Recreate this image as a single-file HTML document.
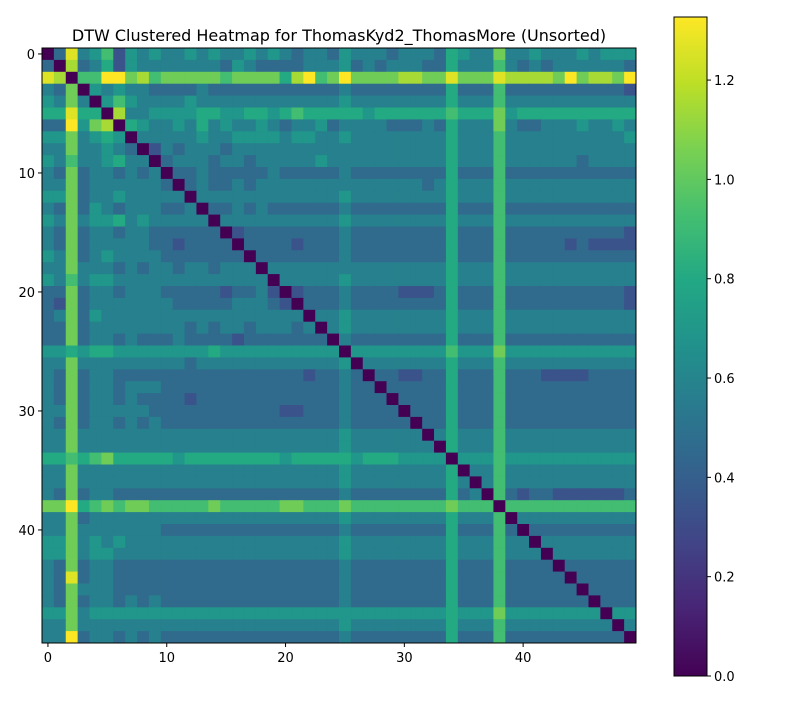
<!DOCTYPE html>
<html><head><meta charset="utf-8">
<style>
body{margin:0;background:#fff;font-family:"DejaVu Sans",sans-serif;}
svg text{font-family:"DejaVu Sans",sans-serif;fill:#000;}
</style></head>
<body>
<svg id="chart" width="800" height="700" xmlns="http://www.w3.org/2000/svg">
<text x="339" y="41" font-size="16" text-anchor="middle">DTW Clustered Heatmap for ThomasKyd2_ThomasMore (Unsorted)</text>
<defs><linearGradient id="vir" x1="0" y1="1" x2="0" y2="0">
<stop offset="0" stop-color="#440154"/><stop offset="0.1" stop-color="#482475"/><stop offset="0.2" stop-color="#414487"/><stop offset="0.3" stop-color="#355f8d"/><stop offset="0.4" stop-color="#2a788e"/><stop offset="0.5" stop-color="#21918c"/><stop offset="0.6" stop-color="#22a884"/><stop offset="0.7" stop-color="#44bf70"/><stop offset="0.8" stop-color="#7ad151"/><stop offset="0.9" stop-color="#bddf26"/><stop offset="1" stop-color="#fde725"/>
</linearGradient></defs>
<g id="cells"></g>
<g id="axes"></g>
<rect x="674" y="17" width="33" height="659" fill="url(#vir)" stroke="#000" stroke-width="1"/>
<g id="cbar"></g>
</svg>
<script>
const rowCodes = [
"04b5683656 5565655656 5455465554 5554765595 5655565666",
"40a4573655 5555546544 4455564545 5544755585 4545555554",
"ba088cd9a8 9999989999 7ac89c9999 aa99b999ba aaa9c9aa9c",
"5490656554 4445444444 4444454444 4444744484 4444444443",
"6595068655 5565555555 5555565555 5555755585 5555555555",
"77b770a556 6667766776 7877777677 7777877796 7777777777",
"44d69a0765 5657565565 4556455554 4454755595 4455565565",
"6695676055 5556556666 5665565555 5555755585 5555555556",
"5595565403 5455545555 5555555555 5555755585 5555555555",
"6585567550 4555455455 5556555555 5555755585 5555545555",
"5494554545 0445444445 4444454444 4444744484 4444444444",
"5594555555 4045445455 5555555555 5545755585 5555555555",
"6694556555 5505555555 5555565555 5555755585 5555555555",
"5494654555 4450445454 4444454444 4444744484 4444444444",
"6595667565 5555055555 5555565555 5555755585 5555555555",
"5494554554 4444403444 4444454444 4444744484 4444444443",
"5494555554 4344440444 4344454444 4444744484 4444343333",
"6594565555 4444444044 4444454444 4444744484 4444444444",
"5595554545 5455455505 5555555555 5555755585 5555555555",
"6585665555 5555555550 5555565555 5555755585 5555555555",
"4494554555 4444434453 0344454444 3334744484 4444444443",
"4394555555 5444445554 3044454444 4444744484 4444444443",
"4594655555 5555555555 5505565555 5555755585 5555555555",
"4494555555 5545455455 5450565555 5555755585 5555555555",
"4494554544 4544443444 4444054444 4444744484 4444444444",
"6676776666 6666766666 6666606666 6666866696 6666666666",
"5595555555 5545555555 5555560555 5555755585 5555555555",
"5494554444 4444444444 4434454044 3344744484 4433334444",
"5494554555 4444444444 4444454404 4444744484 4444444444",
"5494554544 4434444444 4444454440 4444744484 4444444444",
"5594555554 4444444444 3344454444 0444744484 4444444444",
"5494554545 4444444444 4444454444 4044744484 4444444444",
"5595555555 5555555555 5555565555 5505755585 5555555555",
"5595555555 5555555555 5555565555 5550755585 5555555555",
"7787897777 7677777777 6777776777 6666066686 6666666666",
"5595555555 5555555555 5555565555 5555705585 5555555555",
"5595555555 5555555555 5555565555 5555750585 5555555555",
"5494554444 4444444444 4444454444 4444745084 3443333334",
"99c7898998 8888988888 9988898888 8888988808 8888888888",
"5594555555 5555555555 5555565555 5555755580 5555555555",
"5595555555 4444444444 4444454444 4444744484 0444444444",
"6695656555 5555555555 5555565555 5555755585 5055555555",
"6695665555 5555555555 5555565555 5555755585 5505555555",
"5494554444 4444444444 4444454444 4444744484 4440444444",
"54b4554444 4444444444 4444454444 4444744484 4444044444",
"5495554444 4444444444 4444454444 4444744484 4444404444",
"5494554545 4444444444 4444454444 4444744484 4444440444",
"6695666666 6666666666 6666666666 6666766696 6666666066",
"5595555555 5555555555 5555565555 5555755585 5555555505",
"55c4554545 4444444444 4444454444 4444744484 4444444440"
];
const codeUnit = 0.115;
const xTicks = [0,10,20,30,40];
const yTicks = [0,10,20,30,40];
const cbarTicks = [0.0,0.2,0.4,0.6,0.8,1.0,1.2];
const vmax = 1.327;

const NS="http://www.w3.org/2000/svg";
const X0=42,Y0=48,W=594,H=595,N=50;
const cw=W/N, ch=H/N;
const xs=i=>X0+i*cw, ys=i=>Y0+i*ch;
const stops=["#440154","#482475","#414487","#355f8d","#2a788e","#21918c","#22a884","#44bf70","#7ad151","#bddf26","#fde725"].map(h=>[parseInt(h.slice(1,3),16),parseInt(h.slice(3,5),16),parseInt(h.slice(5,7),16)]);
function cmap(v){let t=Math.max(0,Math.min(1,v/vmax))*10;let i=Math.min(9,Math.floor(t));let f=t-i;
const a=stops[i],b=stops[i+1];return `rgb(${a.map((c,k)=>Math.round(c+(b[k]-c)*f)).join(',')})`;}
function decode(ch){return parseInt(ch,16)*codeUnit;}
const cells=document.getElementById('cells');
rowCodes.forEach((row,r)=>{
  const s=row.replace(/ /g,'');
  for(let c=0;c<s.length;c++){
    const el=document.createElementNS(NS,'rect');
    
    
    el.setAttribute('x',xs(c));el.setAttribute('y',ys(r));
    el.setAttribute('width',cw+0.5);el.setAttribute('height',ch+0.5);
    el.setAttribute('fill',cmap(decode(s[c])));
    cells.appendChild(el);
  }
});
const axes=document.getElementById('axes');
const frame=document.createElementNS(NS,'rect');


frame.setAttribute('x',X0);frame.setAttribute('y',Y0);frame.setAttribute('width',W);frame.setAttribute('height',H);
frame.setAttribute('fill','none');frame.setAttribute('stroke','#000');
axes.appendChild(frame);
xTicks.forEach(t=>{
  const x=xs(t)+cw/2;
  const l=document.createElementNS(NS,'line');
  
  
  l.setAttribute('x1',x);l.setAttribute('x2',x);l.setAttribute('y1',Y0+H);l.setAttribute('y2',Y0+H+4);l.setAttribute('stroke','#000');
  axes.appendChild(l);
  const tx=document.createElementNS(NS,'text');
  
  
  tx.setAttribute('x',x);tx.setAttribute('y',Y0+H+19);tx.setAttribute('font-size','13');tx.setAttribute('text-anchor','middle');
  tx.textContent=t;axes.appendChild(tx);
});
yTicks.forEach(t=>{
  const y=ys(t)+ch/2;
  const l=document.createElementNS(NS,'line');
  
  
  l.setAttribute('x1',X0-4);l.setAttribute('x2',X0);l.setAttribute('y1',y);l.setAttribute('y2',y);l.setAttribute('stroke','#000');
  axes.appendChild(l);
  const tx=document.createElementNS(NS,'text');
  
  
  tx.setAttribute('x',X0-7);tx.setAttribute('y',y+5);tx.setAttribute('font-size','13');tx.setAttribute('text-anchor','end');
  tx.textContent=t;axes.appendChild(tx);
});
const cb=document.getElementById('cbar');
const CB0=676,CBH=659;
cbarTicks.forEach(t=>{
  const y=CB0-t/vmax*CBH;
  const l=document.createElementNS(NS,'line');
  
  
  l.setAttribute('x1',707);l.setAttribute('x2',711);l.setAttribute('y1',y);l.setAttribute('y2',y);l.setAttribute('stroke','#000');
  cb.appendChild(l);
  const tx=document.createElementNS(NS,'text');
  
  
  tx.setAttribute('x',714);tx.setAttribute('y',y+5);tx.setAttribute('font-size','13');
  tx.textContent=t.toFixed(1);cb.appendChild(tx);
});
</script>
</body></html>
